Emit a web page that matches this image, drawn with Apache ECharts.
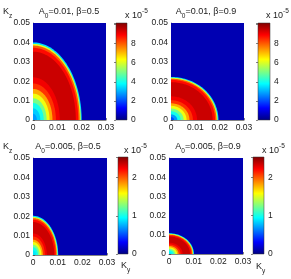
<!DOCTYPE html>
<html><head><meta charset="utf-8">
<script src="https://cdn.jsdelivr.net/npm/echarts@6/dist/echarts.min.js"></script>
<style>html,body{margin:0;padding:0;background:#fff}#c{width:291px;height:279px}</style>
</head><body><div id="c"></div>
<script>
// ---- data (values in units of 1e-5) ----
const kyTicks = [0, 0.01, 0.02, 0.03];
const kzTicks = [0, 0.01, 0.02, 0.03, 0.04, 0.05];
const A0 = ['0.01', '0.01', '0.005', '0.005'];
const beta = ['0.5', '0.9', '0.5', '0.9'];
const cbMax = [10.15, 10.15, 2.54, 2.53];
const cbTicks = [[0, 2, 4, 6, 8], [0, 2, 4, 6, 8], [0, 1, 2], [0, 1, 2]];
const background = [0.5, 0.5, 0.12, 0.12];
// contour bands: [Ky semi-axis, Kz semi-axis, value], outermost first
const bands1 = [
  [0.0200, 0.0400, 3.5], [0.0196, 0.0392, 6.0], [0.0192, 0.0384, 8.0],
  [0.0186, 0.0372, 8.8], [0.0176, 0.0352, 9.4], [0.0110, 0.0220, 9.0],
  [0.0094, 0.0188, 8.4], [0.0080, 0.0160, 7.2], [0.0068, 0.0136, 6.2],
  [0.0056, 0.0112, 5.0], [0.0044, 0.0088, 4.0], [0.0030, 0.0060, 3.3],
  [0.0016, 0.0032, 2.8]
];
const bands2 = [
  [0.0195, 0.0222, 3.5], [0.0191, 0.0218, 6.0], [0.0187, 0.0213, 8.0],
  [0.0181, 0.0207, 8.8], [0.0171, 0.0195, 9.4], [0.0107, 0.0122, 9.0],
  [0.0090, 0.0102, 8.4], [0.0076, 0.0086, 7.2], [0.0064, 0.0073, 6.2],
  [0.0052, 0.0059, 5.0], [0.0040, 0.0045, 4.0], [0.0026, 0.0029, 2.8],
  [0.0013, 0.0015, 2.0]
];
const bands3 = [
  [0.0102, 0.0202, 0.9], [0.0099, 0.0196, 1.5], [0.0096, 0.0190, 2.0],
  [0.0092, 0.0182, 2.2], [0.0086, 0.0170, 2.35], [0.0056, 0.0111, 2.25],
  [0.0048, 0.0095, 2.1], [0.0040, 0.0079, 1.8], [0.0034, 0.0067, 1.55],
  [0.0027, 0.0053, 1.25], [0.0020, 0.0040, 1.0], [0.0012, 0.0024, 0.9]
];
const bands4 = [
  [0.0101, 0.0108, 0.9], [0.0098, 0.0105, 1.5], [0.0095, 0.0101, 2.0],
  [0.0091, 0.0097, 2.2], [0.0085, 0.0091, 2.35], [0.0055, 0.0059, 2.25],
  [0.0047, 0.0050, 2.1], [0.0039, 0.0042, 1.8], [0.0033, 0.0035, 1.55],
  [0.0026, 0.0028, 1.25], [0.0019, 0.0020, 1.0], [0.0011, 0.0012, 0.9]
];
const bands = [bands1, bands2, bands3, bands4];

// ---- styling / layout ----
const FONT = '"Liberation Sans", Arial, Helvetica, sans-serif';
const TXT = '#1a1a1a';
const jet = ['#000080', '#0000ff', '#0080ff', '#00ffff', '#80ff80', '#ffff00', '#ff8000', '#ff0000', '#800000'];
const plotBoxes = [
  {left: 33, top: 23, width: 73, height: 97},
  {left: 171, top: 23, width: 73, height: 97},
  {left: 33, top: 158, width: 74, height: 97},
  {left: 169, top: 158, width: 74, height: 96}
];
const cbBoxes = [
  {left: 116, top: 23, width: 11, height: 97},
  {left: 258, top: 23, width: 12, height: 97},
  {left: 118, top: 157, width: 10, height: 97},
  {left: 253, top: 157, width: 11, height: 97}
];
const titlePos = [[69, 12], [206, 12], [68, 147], [208, 147]];
const expPos = [[125, 16], [266, 16], [124, 151], [262, 151]];

const grid = [], xAxis = [], yAxis = [], series = [], visualMap = [];
const fmt = v => v === 0 ? '0' : v.toFixed(2);

plotBoxes.forEach((b, i) => {
  grid.push(Object.assign({containLabel: false}, b));
  xAxis.push({
    type: 'value', gridIndex: i, min: kyTicks[0], max: kyTicks[kyTicks.length - 1], interval: 0.01,
    axisLine: {show: true, onZero: false, lineStyle: {color: '#333', width: 0.6}},
    axisTick: {show: true, inside: true, length: 2, lineStyle: {color: '#333', width: 0.6}},
    splitLine: {show: false},
    axisLabel: {fontSize: 8.5, fontFamily: FONT, color: TXT, margin: 3, formatter: fmt, hideOverlap: false}
  });
  yAxis.push({
    type: 'value', gridIndex: i, min: kzTicks[0], max: kzTicks[kzTicks.length - 1], interval: 0.01,
    axisLine: {show: true, onZero: false, lineStyle: {color: '#333', width: 0.6}},
    axisTick: {show: true, inside: true, length: 2, lineStyle: {color: '#333', width: 0.6}},
    splitLine: {show: false},
    axisLabel: {fontSize: 8.5, fontFamily: FONT, color: TXT, margin: 3, formatter: fmt, hideOverlap: false}
  });
});
cbBoxes.forEach((b, i) => {
  grid.push(Object.assign({containLabel: false}, b));
  xAxis.push({type: 'value', gridIndex: 4 + i, min: 0, max: 1, show: false});
  const ticks = cbTicks[i];
  yAxis.push({
    type: 'value', gridIndex: 4 + i, position: 'right', min: 0, max: cbMax[i],
    interval: ticks[1] - ticks[0],
    axisLine: {show: false},
    axisTick: {show: true, inside: true, length: 2, lineStyle: {color: '#333', width: 0.6}},
    splitLine: {show: false},
    axisLabel: {fontSize: 8.5, fontFamily: FONT, color: TXT, margin: 4,
      formatter: v => (ticks.indexOf(Math.round(v * 1000) / 1000) >= 0 ? String(Math.round(v)) : '')}
  });
});

// plot series
plotBoxes.forEach((b, i) => {
  series.push({
    type: 'custom', xAxisIndex: i, yAxisIndex: i, clip: true, silent: true,
    dimensions: ['ky', 'kz', 'v'], encode: {x: 0, y: 1},
    data: [[kyTicks[kyTicks.length - 1], kzTicks[kzTicks.length - 1], background[i]]],
    renderItem: (params, api) => {
      const p0 = api.coord([0, api.value(1)]);
      const p1 = api.coord([api.value(0), 0]);
      return {type: 'rect', shape: {x: p0[0], y: p0[1], width: p1[0] - p0[0], height: p1[1] - p0[1]},
        style: {fill: api.visual('color')}};
    }
  });
  series.push({
    type: 'custom', xAxisIndex: i, yAxisIndex: i, clip: true, silent: true,
    dimensions: ['ky', 'kz', 'v'], encode: {x: 0, y: 1},
    data: bands[i],
    renderItem: (params, api) => {
      const a = api.value(0), c = api.value(1);
      const pts = [api.coord([0, 0])];
      for (let k = 0; k <= 48; k++) {
        const t = k / 48 * Math.PI / 2;
        pts.push(api.coord([a * Math.cos(t), c * Math.sin(t)]));
      }
      return {type: 'polygon', shape: {points: pts}, style: {fill: api.visual('color')}};
    }
  });
  visualMap.push({
    type: 'continuous', show: false, min: 0, max: cbMax[i], dimension: 2,
    seriesIndex: [2 * i, 2 * i + 1], inRange: {color: jet}
  });
});
// colorbars
cbBoxes.forEach((b, i) => {
  series.push({
    type: 'custom', xAxisIndex: 4 + i, yAxisIndex: 4 + i, silent: true,
    data: [[0, cbMax[i]]],
    renderItem: (params, api) => {
      const p0 = api.coord([0, api.value(1)]);
      const p1 = api.coord([1, 0]);
      const stops = jet.map((c, k) => ({offset: k / (jet.length - 1), color: c}));
      return {type: 'rect', shape: {x: p0[0], y: p0[1], width: p1[0] - p0[0], height: p1[1] - p0[1]},
        style: {fill: new echarts.graphic.LinearGradient(0, 1, 0, 0, stops), stroke: '#333', lineWidth: 0.5}};
    }
  });
});

const rich = {
  a: {fontSize: 9, fontFamily: FONT, fill: TXT, lineHeight: 12, verticalAlign: 'middle'},
  s: {fontSize: 6.5, fontFamily: FONT, fill: TXT, lineHeight: 16, verticalAlign: 'bottom'},
  u: {fontSize: 6.5, fontFamily: FONT, fill: TXT, lineHeight: 16, verticalAlign: 'top'}
};
const graphic = [];
titlePos.forEach((p, i) => {
  graphic.push({type: 'text', x: p[0], y: p[1], silent: true,
    style: {text: '{a|A}{s|0}{a|=' + A0[i] + ', β=' + beta[i] + '}', align: 'center', verticalAlign: 'middle', rich}});
});
expPos.forEach((p, i) => {
  graphic.push({type: 'text', x: p[0], y: p[1], silent: true,
    style: {text: '{a|x 10}{u|-5}', align: 'left', verticalAlign: 'middle', rich}});
});
[[3, 12], [3, 147]].forEach(p => {
  graphic.push({type: 'text', x: p[0], y: p[1], silent: true,
    style: {text: '{a|K}{s|z}', align: 'left', verticalAlign: 'middle', rich}});
});
[[121, 266], [256, 267]].forEach(p => {
  graphic.push({type: 'text', x: p[0], y: p[1], silent: true,
    style: {text: '{a|K}{s|y}', align: 'left', verticalAlign: 'middle', rich}});
});

const chart = echarts.init(document.getElementById('c'), null, {renderer: 'canvas'});
chart.setOption({animation: false, backgroundColor: '#fff', grid, xAxis, yAxis, series, visualMap, graphic});
</script>
</body></html>
